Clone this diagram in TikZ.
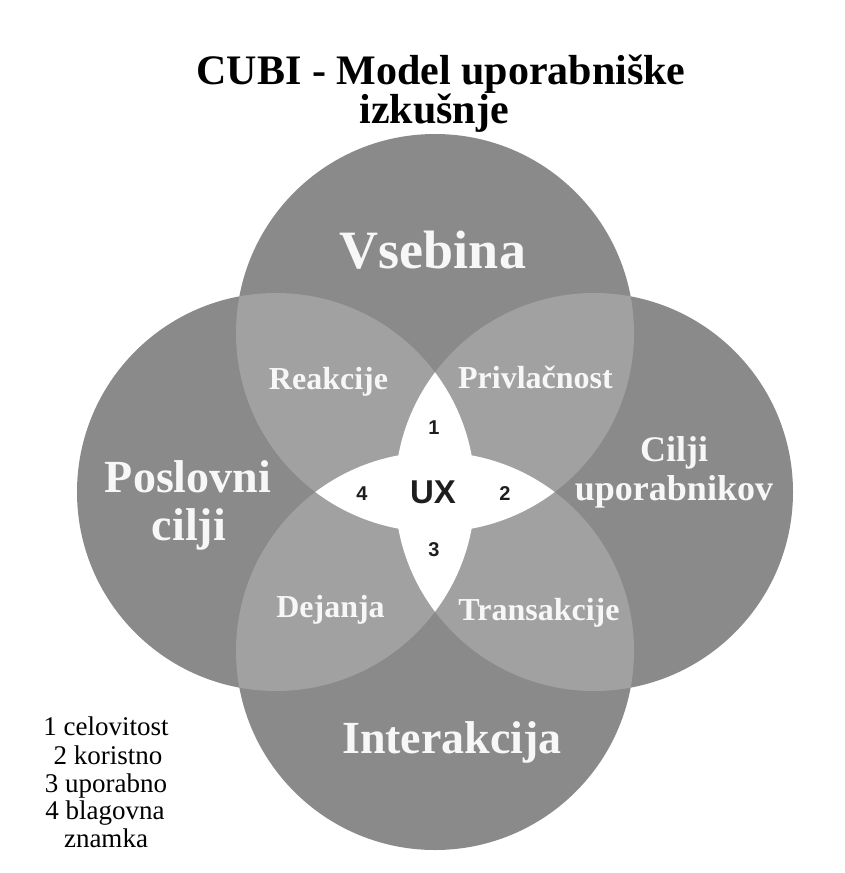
\documentclass[tikz,border=0pt]{standalone}
\usepackage{fontspec}
\setmainfont{Liberation Serif}
\newfontfamily\serifreg{Liberation Serif}
\newfontfamily\uxfont{Liberation Sans}
\definecolor{circgray}{HTML}{8A8A8A}
\definecolor{lensgray}{HTML}{A1A1A1}
\definecolor{labelwhite}{HTML}{F7F7F7}
\definecolor{uxtext}{HTML}{1E1E1E}
\begin{document}
\begin{tikzpicture}[x=1pt,y=-1pt,
  circ/.style={fill=circgray},
  lens/.style={fill=lensgray},
  core/.style={fill=white},
  bigl/.style={text=labelwhite, inner sep=0pt, anchor=base},
  smalll/.style={text=labelwhite, inner sep=0pt, anchor=base, font=\bfseries\fontsize{32}{32}\selectfont},
  num/.style={text=uxtext, inner sep=0pt, font=\uxfont\bfseries\fontsize{20}{20}\selectfont},
  legend/.style={text=black, inner sep=0pt, anchor=base, font=\serifreg\fontsize{27}{27}\selectfont},
  titletext/.style={text=black, inner sep=0pt, anchor=base, font=\bfseries\fontsize{42}{42}\selectfont}]
\useasboundingbox (0,0) rectangle (844,873);
\fill[white] (0,0) rectangle (844,873);

\def\R{199pt}
\coordinate (T) at (435,333);
\coordinate (B) at (435,651);
\coordinate (L) at (276,492);
\coordinate (Rc) at (594,492);

% circles
\foreach \c in {T,B,L,Rc} { \fill[circ] (\c) circle[radius=\R]; }

% pairwise overlaps of neighbouring circles
\foreach \a/\b in {T/L,T/Rc,B/L,B/Rc} {
  \begin{scope}
    \clip (\a) circle[radius=\R];
    \fill[lens] (\b) circle[radius=\R];
  \end{scope}
}

% white core: overlaps of opposite circles
\begin{scope}
  \clip (L) circle[radius=\R];
  \fill[core] (Rc) circle[radius=\R];
\end{scope}
\begin{scope}
  \clip (T) circle[radius=\R];
  \fill[core] (B) circle[radius=\R];
\end{scope}

% title
\node[titletext] (title1) at (441,84) {CUBI - Model uporabniške};
\node[titletext] (title2) at (434,123) {izkušnje};

% circle labels
\node[bigl, font=\bfseries\fontsize{54}{54}\selectfont] (vsebina) at (433,268) {Vsebina};
\node[bigl, font=\bfseries\fontsize{46}{46}\selectfont] (poslovni) at (188,492.5) {Poslovni};
\node[bigl, font=\bfseries\fontsize{46}{46}\selectfont] (cilji) at (189,540) {cilji};
\node[bigl, font=\bfseries\fontsize{36}{36}\selectfont] (ciljiu) at (674,461.5) {Cilji};
\node[bigl, font=\bfseries\fontsize{36}{36}\selectfont] (uporabnikov) at (674,500) {uporabnikov};
\node[bigl, font=\bfseries\fontsize{46}{46}\selectfont] (interakcija) at (452,753) {Interakcija};

% overlap labels
\node[smalll] (reakcije) at (328.5,389) {Reakcije};
\node[smalll] (privlacnost) at (535.5,388) {Privlačnost};
\node[smalll] (dejanja) at (330.5,617) {Dejanja};
\node[smalll] (transakcije) at (539,620) {Transakcije};

% core
\node[text=uxtext, inner sep=0pt, font=\uxfont\bfseries\fontsize{33}{33}\selectfont] (ux) at (433,492) {UX};
\node[num] (n1) at (434,428) {1};
\node[num] (n2) at (505,494) {2};
\node[num] (n3) at (434,550) {3};
\node[num] (n4) at (362,494) {4};

% legend
\node[legend] (l1) at (106,735) {1 celovitost};
\node[legend] (l2) at (108,764) {2 koristno};
\node[legend] (l3) at (106,792) {3 uporabno};
\node[legend] (l4) at (105,819) {4 blagovna};
\node[legend] (l5) at (106,847) {znamka};
\end{tikzpicture}
\end{document}
